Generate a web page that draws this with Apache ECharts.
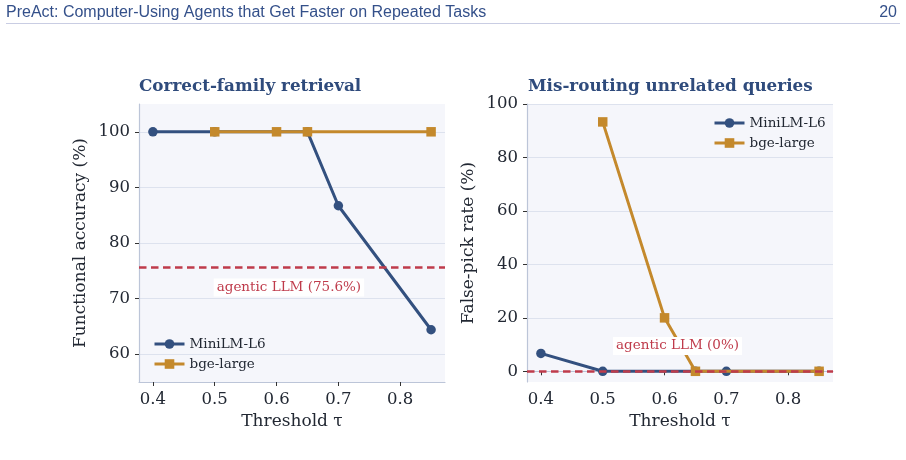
<!DOCTYPE html>
<html>
<head>
<meta charset="utf-8">
<script src="https://cdn.jsdelivr.net/npm/echarts@6/dist/echarts.min.js"></script>
<style>
html,body{margin:0;padding:0;background:#fff;}
#c{width:906px;height:460px;}
</style>
</head>
<body>
<div id="c"></div>
<script>
// ---- data ----
const headerText = 'PreAct: Computer-Using Agents that Get Faster on Repeated Tasks';
const pageNumber = '20';
const titles = ['Correct-family retrieval', 'Mis-routing unrelated queries'];
const seriesNames = ['MiniLM-L6', 'bge-large'];
const miniThresholds = [0.4, 0.5, 0.65, 0.7, 0.85];
const bgeThresholds = [0.5, 0.6, 0.65, 0.85];
const miniAccuracy = [100, 100, 100, 86.7, 64.4];
const bgeAccuracy = [100, 100, 100, 100];
const miniFalsePick = [6.7, 0, 0, 0, 0];
const bgeFalsePick = [93.3, 20, 0, 0];
const xTicks = [0.4, 0.5, 0.6, 0.7, 0.8];
const yTicksLeft = [60, 70, 80, 90, 100];
const yTicksRight = [0, 20, 40, 60, 80, 100];
const agenticAccuracy = 75.6;
const agenticFalsePick = 0;
const agenticLabels = ['agentic LLM (75.6%)', 'agentic LLM (0%)'];

// ---- style ----
const BLUE = '#33507f';
const GOLD = '#c4892c';
const RED = '#bf3b4b';
const TEXT = '#222833';
const SERIF = '"DejaVu Serif", serif';
const xMin = 0.3775, xMax = 0.8725;

const zip = (xs, ys) => xs.map((x, i) => [x, ys[i]]);

function xAxis(gi) {
  return {
    type: 'value', gridIndex: gi, min: xMin, max: xMax,
    name: 'Threshold τ', nameLocation: 'middle', nameGap: 31,
    nameTextStyle: {fontFamily: SERIF, fontSize: 17, color: TEXT},
    axisLine: {show: true, lineStyle: {color: '#bcc5d8', width: 1.2}},
    axisTick: {show: true, inside: false, length: 4, customValues: xTicks, lineStyle: {color: '#333'}},
    axisLabel: {customValues: xTicks, margin: 9, fontFamily: SERIF, fontSize: 16.5, color: TEXT,
      formatter: v => v.toFixed(1)},
    splitLine: {show: false}
  };
}
function yAxis(gi, min, max, ticks, name) {
  return {
    type: 'value', gridIndex: gi, min: min, max: max,
    name: name, nameLocation: 'middle', nameGap: 50, nameRotate: 90,
    nameTextStyle: {fontFamily: SERIF, fontSize: 17, color: TEXT},
    axisLine: {show: true, lineStyle: {color: '#bcc5d8', width: 1.2}},
    axisTick: {show: true, inside: false, length: 4, customValues: ticks, lineStyle: {color: '#333'}},
    axisLabel: {customValues: ticks, margin: 9, fontFamily: SERIF, fontSize: 16.5, color: TEXT},
    splitLine: {show: true, lineStyle: {color: '#dde2ee', width: 1.1}}
  };
}
function lineSeries(name, gi, data, symbol, color, z) {
  return {
    name: name, type: 'line', xAxisIndex: gi, yAxisIndex: gi, data: data,
    symbol: symbol, symbolSize: 9.5, showSymbol: true, z: z,
    lineStyle: {color: color, width: 3}, itemStyle: {color: color},
    emphasis: {disabled: true}, animation: false
  };
}
function refSeries(gi, yVal, label, lx, ly, z) {
  return {
    type: 'line', xAxisIndex: gi, yAxisIndex: gi, data: [], z: z, animation: false,
    markLine: {
      silent: true, symbol: ['none', 'none'], label: {show: false},
      lineStyle: {color: RED, width: 2.5, type: [7.5, 4.5]},
      data: [{yAxis: yVal}], animation: false
    },
    markPoint: {
      silent: true, symbol: 'rect', symbolSize: 1, itemStyle: {color: 'rgba(0,0,0,0)'},
      label: {show: true, position: 'inside', formatter: label, fontFamily: SERIF, fontSize: 13.5,
        color: RED, backgroundColor: '#ffffff', padding: [2, 3]},
      data: [{coord: [lx, ly]}], animation: false
    }
  };
}
function legend(left, top) {
  return {
    data: seriesNames, orient: 'vertical', left: left, top: top, itemWidth: 30, itemHeight: 12, itemGap: 6,
    lineStyle: {width: 3}, textStyle: {fontFamily: SERIF, fontSize: 13.5, color: TEXT}, selectedMode: false
  };
}

const chart = echarts.init(document.getElementById('c'), null, {renderer: 'canvas'});
chart.setOption({
  animation: false,
  backgroundColor: '#ffffff',
  title: [
    {text: titles[0], left: 139, top: 78, padding: 0, textStyle: {fontFamily: SERIF, fontWeight: 'bold', fontSize: 16.8, color: '#2f4b7c'}},
    {text: titles[1], left: 528, top: 78, padding: 0, textStyle: {fontFamily: SERIF, fontWeight: 'bold', fontSize: 16.8, color: '#2f4b7c'}}
  ],
  grid: [
    {left: 139, right: 461, top: 104, height: 278, show: true, backgroundColor: '#f5f6fb', borderWidth: 0},
    {left: 527, right: 73, top: 104, height: 278, show: true, backgroundColor: '#f5f6fb', borderWidth: 0}
  ],
  xAxis: [xAxis(0), xAxis(1)],
  yAxis: [
    yAxis(0, 55, 105, yTicksLeft, 'Functional accuracy (%)'),
    yAxis(1, -4, 100, yTicksRight, 'False-pick rate (%)')
  ],
  legend: [legend(148, 332), legend(708, 111)],
  series: [
    refSeries(0, agenticAccuracy, agenticLabels[0], 0.62, 72.0, 1),
    lineSeries(seriesNames[0], 0, zip(miniThresholds, miniAccuracy), 'circle', BLUE, 3),
    lineSeries(seriesNames[1], 0, zip(bgeThresholds, bgeAccuracy), 'rect', GOLD, 4),
    lineSeries(seriesNames[0], 1, zip(miniThresholds, miniFalsePick), 'circle', BLUE, 3),
    lineSeries(seriesNames[1], 1, zip(bgeThresholds, bgeFalsePick), 'rect', GOLD, 4),
    refSeries(1, agenticFalsePick, agenticLabels[1], 0.621, 9.5, 5)
  ],
  graphic: [
    {type: 'text', left: 6, top: 5, style: {text: headerText, font: '16px "Liberation Sans", Arial, sans-serif', fill: '#34508a'}},
    {type: 'text', right: 9, top: 5, style: {text: pageNumber, font: '16px "Liberation Sans", Arial, sans-serif', fill: '#34508a'}},
    {type: 'line', shape: {x1: 6, y1: 23.5, x2: 900, y2: 23.5}, style: {stroke: '#c9cde3', lineWidth: 1.2}}
  ]
});
</script>
</body>
</html>
